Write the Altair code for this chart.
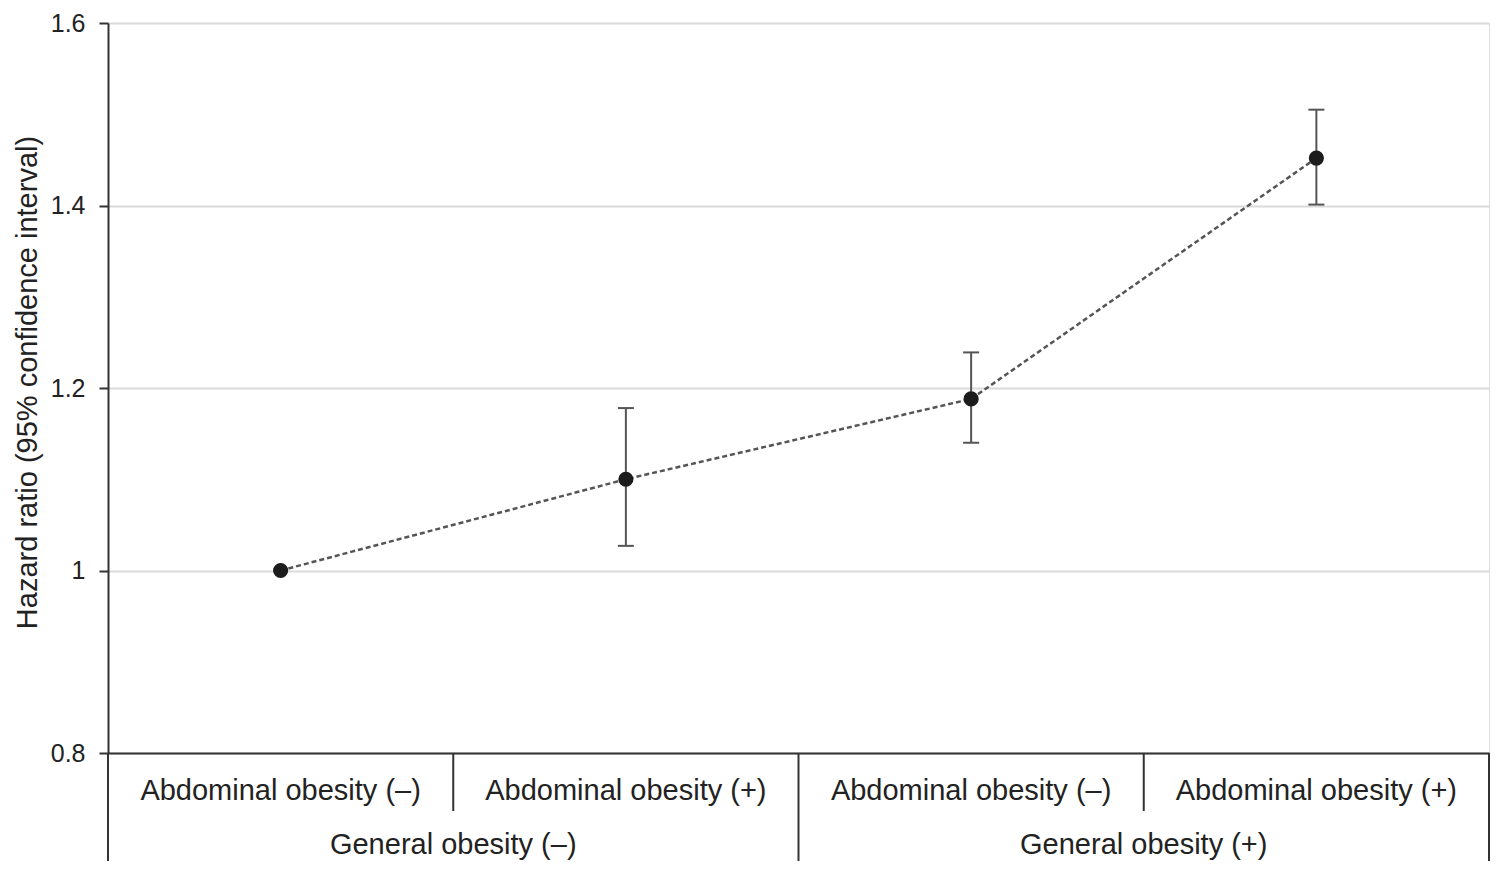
import altair as alt
import pandas as pd

sub_labels = ["Abdominal obesity (–)", "Abdominal obesity (+)",
              "Abdominal obesity (–)", "Abdominal obesity (+)"]
group_labels = ["General obesity (–)", "General obesity (+)"]
hr = [1.0, 1.10, 1.188, 1.452]
ci_lo = [None, 1.027, 1.140, 1.401]
ci_hi = [None, 1.178, 1.239, 1.505]
y_ticks = [0.8, 1.0, 1.2, 1.4, 1.6]

W, H = 1381, 730
FONT = "Liberation Sans"
DARK = "#333333"
TXT = "#222222"

pts = pd.DataFrame({"pos": [i + 0.5 for i in range(4)], "hr": hr,
                    "lo": ci_lo, "hi": ci_hi, "label": sub_labels})
err = pts.dropna()
grp = pd.DataFrame({"pos": [1.0, 3.0], "label": group_labels})
short_sep = pd.DataFrame({"pos": [1.0, 3.0]})
long_sep = pd.DataFrame({"pos": [0.0, 2.0, 4.0]})

xs = alt.Scale(domain=[0, 4], nice=False, zero=False)
ys = alt.Scale(domain=[0.8, 1.6], nice=False, zero=False)

base = alt.Chart(pts)

grid = base.mark_point(opacity=0).encode(
    x=alt.X("pos:Q", scale=xs, axis=alt.Axis(
        title=None, labels=False, ticks=False, grid=False,
        domainColor=DARK, domainWidth=2)),
    y=alt.Y("hr:Q", scale=ys, axis=alt.Axis(
        title="Hazard ratio (95% confidence interval)",
        values=y_ticks,
        labelExpr="datum.value == 1 ? '1' : format(datum.value, '.1f')",
        grid=True, gridColor="#dadada", gridWidth=2,
        domainColor=DARK, domainWidth=2,
        tickColor=DARK, tickWidth=2, tickSize=9,
        labelFontSize=25, labelFont=FONT, labelColor=TXT,
        labelPadding=14,
        titleFontSize=29, titleFont=FONT, titleColor=TXT,
        titleFontWeight="normal", titleAngle=270,
        titleBaseline="middle", titleAlign="center",
        titleX=-81, titleY=H / 2 - 6)),
)

line = base.mark_line(strokeDash=[5, 3], color="#555555", strokeWidth=2.5).encode(
    x=alt.X("pos:Q", scale=xs), y=alt.Y("hr:Q", scale=ys))

bars = alt.Chart(err).mark_rule(color="#555555", strokeWidth=2).encode(
    x=alt.X("pos:Q", scale=xs), y=alt.Y("lo:Q", scale=ys), y2="hi:Q")

cap_lo = alt.Chart(err).mark_rule(color="#555555", strokeWidth=2,
                                  xOffset=-8, x2Offset=8).encode(
    x=alt.X("pos:Q", scale=xs), x2="pos:Q", y=alt.Y("lo:Q", scale=ys))
cap_hi = alt.Chart(err).mark_rule(color="#555555", strokeWidth=2,
                                  xOffset=-8, x2Offset=8).encode(
    x=alt.X("pos:Q", scale=xs), x2="pos:Q", y=alt.Y("hi:Q", scale=ys))

dots = base.mark_circle(size=230, color="#1c1c1c", opacity=1).encode(
    x=alt.X("pos:Q", scale=xs), y=alt.Y("hr:Q", scale=ys))

sep1 = alt.Chart(short_sep).mark_rule(color=DARK, strokeWidth=2).encode(
    x=alt.X("pos:Q", scale=xs), y=alt.value(H), y2=alt.value(H + 58))
sep2 = alt.Chart(long_sep).mark_rule(color=DARK, strokeWidth=2).encode(
    x=alt.X("pos:Q", scale=xs), y=alt.value(H), y2=alt.value(H + 120))

sub_text = base.mark_text(fontSize=29, font=FONT, color=TXT,
                          baseline="middle", align="center").encode(
    x=alt.X("pos:Q", scale=xs), y=alt.value(H + 38), text="label:N")
grp_text = alt.Chart(grp).mark_text(fontSize=29, font=FONT, color=TXT,
                                    baseline="middle", align="center").encode(
    x=alt.X("pos:Q", scale=xs), y=alt.value(H + 92), text="label:N")

chart = alt.layer(grid, line, bars, cap_lo, cap_hi, dots, sep1, sep2,
                  sub_text, grp_text).properties(
    width=W, height=H,
    autosize=alt.AutoSizeParams(type="none"),
    padding={"left": 100, "top": 15, "right": 1, "bottom": 108},
).configure_view(stroke=None).configure(background="white")

chart.save("out.html", embed_options={"renderer": "svg", "actions": False})
